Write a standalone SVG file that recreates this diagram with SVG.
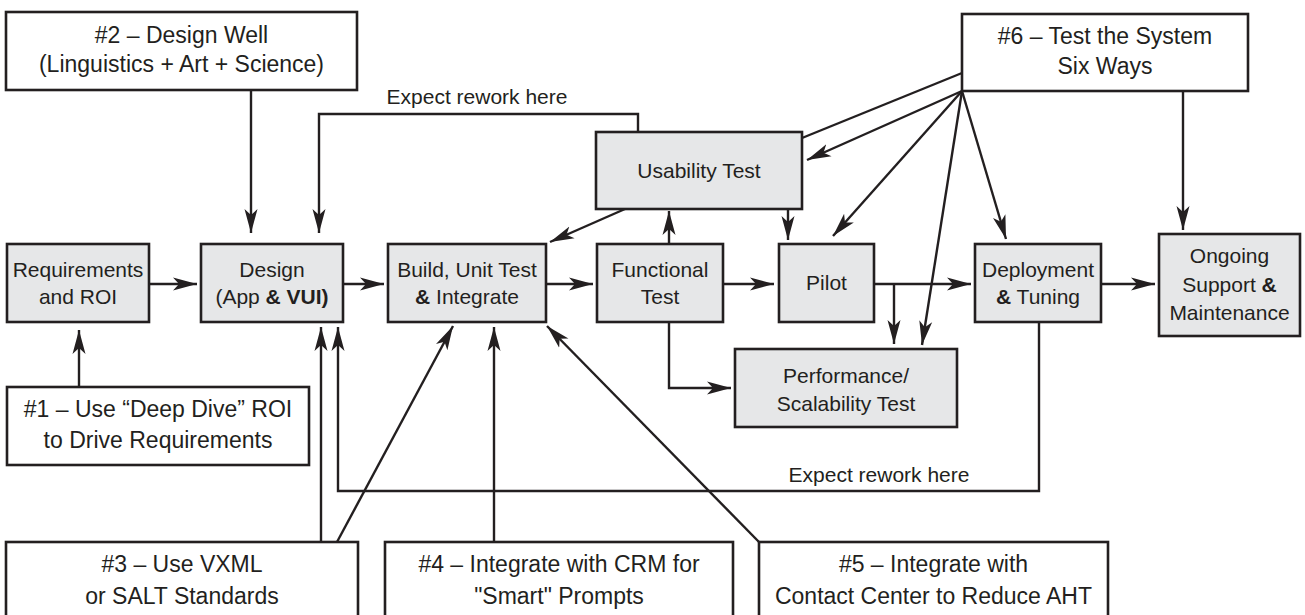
<svg xmlns="http://www.w3.org/2000/svg" width="1305" height="615" viewBox="0 0 1305 615">
  <style>
    .note { fill: #ffffff; stroke: #231f20; stroke-width: 2.6; }
    .step { fill: #e6e7e8; stroke: #231f20; stroke-width: 2.6; }
    .t { font-family: "Liberation Sans", Arial, sans-serif; fill: #231f20; text-anchor: middle; }
    .ts { font-size: 21px; }
    .tn { font-size: 23px; }
    .b { font-weight: bold; }
    .wire { fill: none; stroke: #231f20; stroke-width: 2.4; }
    .arr { marker-end: url(#head); }
  </style>
  <defs>
    <!-- slim arrowhead with swept-back barbs -->
    <marker id="head" markerUnits="userSpaceOnUse" markerWidth="25" markerHeight="14" refX="24" refY="7" orient="auto">
      <path d="M0,0.5 L24,7 L0,13.5 L6,7 Z" fill="#231f20"/>
    </marker>
  </defs>
  <rect width="1305" height="615" fill="#ffffff"/>

  <!-- connectors -->
  <g id="connectors">
    <path class="wire arr" d="M251,90 V233"/>
    <path class="wire arr" d="M638,132 V114 H319 V233"/>
    <path class="wire arr" d="M149,284 H197"/>
    <path class="wire arr" d="M343,284 H384"/>
    <path class="wire arr" d="M546,284 H593"/>
    <path class="wire arr" d="M723,284 H774"/>
    <path class="wire arr" d="M874,284 H971"/>
    <path class="wire arr" d="M1101,284 H1155"/>
    <path class="wire arr" d="M894,284 V344"/>
    <path class="wire arr" d="M669,244 V211"/>
    <path class="wire arr" d="M669,322 V388 H731"/>
    <path class="wire arr" d="M625,209 L550,242"/>
    <path class="wire arr" d="M788,209 V240"/>
    <path class="wire" d="M962,73 L802,138"/>
    <path class="wire arr" d="M962,91 L807,160"/>
    <path class="wire arr" d="M962,91 L833,236"/>
    <path class="wire arr" d="M962,91 L922,345"/>
    <path class="wire arr" d="M962,91 L1006,239"/>
    <path class="wire arr" d="M1183,91 V230"/>
    <path class="wire arr" d="M1039,322 V491 H338 V327"/>
    <path class="wire arr" d="M79,387 V330"/>
    <path class="wire arr" d="M321,542 V327"/>
    <path class="wire arr" d="M337,542 L453,326"/>
    <path class="wire arr" d="M494,542 V327"/>
    <path class="wire arr" d="M759,542 L547,326"/>
    <text class="t ts" x="477" y="104">Expect rework here</text>
    <text class="t ts" x="879" y="482">Expect rework here</text>
  </g>

  <!-- guideline notes -->
  <g id="note2">
    <rect class="note" x="6" y="12" width="351" height="78"/>
    <text class="t tn" x="181.5" y="43">#2 – Design Well</text>
    <text class="t tn" x="181.5" y="72">(Linguistics + Art + Science)</text>
  </g>
  <g id="note6">
    <rect class="note" x="962" y="14" width="286" height="77"/>
    <text class="t tn" x="1105" y="44">#6 – Test the System</text>
    <text class="t tn" x="1105" y="74">Six Ways</text>
  </g>
  <g id="note1">
    <rect class="note" x="7" y="387" width="302" height="78"/>
    <text class="t tn" x="158" y="417">#1 – Use “Deep Dive” ROI</text>
    <text class="t tn" x="158" y="448">to Drive Requirements</text>
  </g>
  <g id="note3">
    <rect class="note" x="6" y="542" width="352" height="80"/>
    <text class="t tn" x="182" y="572">#3 – Use VXML</text>
    <text class="t tn" x="182" y="604">or SALT Standards</text>
  </g>
  <g id="note4">
    <rect class="note" x="385" y="542" width="348" height="80"/>
    <text class="t tn" x="559" y="572">#4 – Integrate with CRM for</text>
    <text class="t tn" x="559" y="604">"Smart" Prompts</text>
  </g>
  <g id="note5">
    <rect class="note" x="759" y="542" width="349" height="80"/>
    <text class="t tn" x="933.5" y="572">#5 – Integrate with</text>
    <text class="t tn" x="933.5" y="604">Contact Center to Reduce AHT</text>
  </g>

  <!-- process steps -->
  <g id="requirements">
    <rect class="step" x="7" y="244" width="142" height="78"/>
    <text class="t ts" x="78" y="277">Requirements</text>
    <text class="t ts" x="78" y="304">and ROI</text>
  </g>
  <g id="design">
    <rect class="step" x="201" y="244" width="142" height="78"/>
    <text class="t ts" x="272" y="277">Design</text>
    <text class="t ts" x="272" y="304">(App <tspan class="b">&amp;</tspan> <tspan class="b">VUI)</tspan></text>
  </g>
  <g id="build">
    <rect class="step" x="388" y="244" width="158" height="78"/>
    <text class="t ts" x="467" y="277">Build, Unit Test</text>
    <text class="t ts" x="467" y="304"><tspan class="b">&amp;</tspan> Integrate</text>
  </g>
  <g id="functional">
    <rect class="step" x="597" y="244" width="126" height="78"/>
    <text class="t ts" x="660" y="277">Functional</text>
    <text class="t ts" x="660" y="304">Test</text>
  </g>
  <g id="usability">
    <rect class="step" x="596" y="132" width="206" height="77"/>
    <text class="t ts" x="699" y="178">Usability Test</text>
  </g>
  <g id="pilot">
    <rect class="step" x="779" y="244" width="95" height="78"/>
    <text class="t ts" x="826.5" y="290">Pilot</text>
  </g>
  <g id="performance">
    <rect class="step" x="735" y="349" width="222" height="78"/>
    <text class="t ts" x="846" y="383">Performance/</text>
    <text class="t ts" x="846" y="411">Scalability Test</text>
  </g>
  <g id="deployment">
    <rect class="step" x="975" y="244" width="126" height="78"/>
    <text class="t ts" x="1038" y="277">Deployment</text>
    <text class="t ts" x="1038" y="304"><tspan class="b">&amp;</tspan> Tuning</text>
  </g>
  <g id="ongoing">
    <rect class="step" x="1159" y="234" width="141" height="102"/>
    <text class="t ts" x="1229.5" y="263">Ongoing</text>
    <text class="t ts" x="1229.5" y="292">Support <tspan class="b">&amp;</tspan></text>
    <text class="t ts" x="1229.5" y="320">Maintenance</text>
  </g>
</svg>
